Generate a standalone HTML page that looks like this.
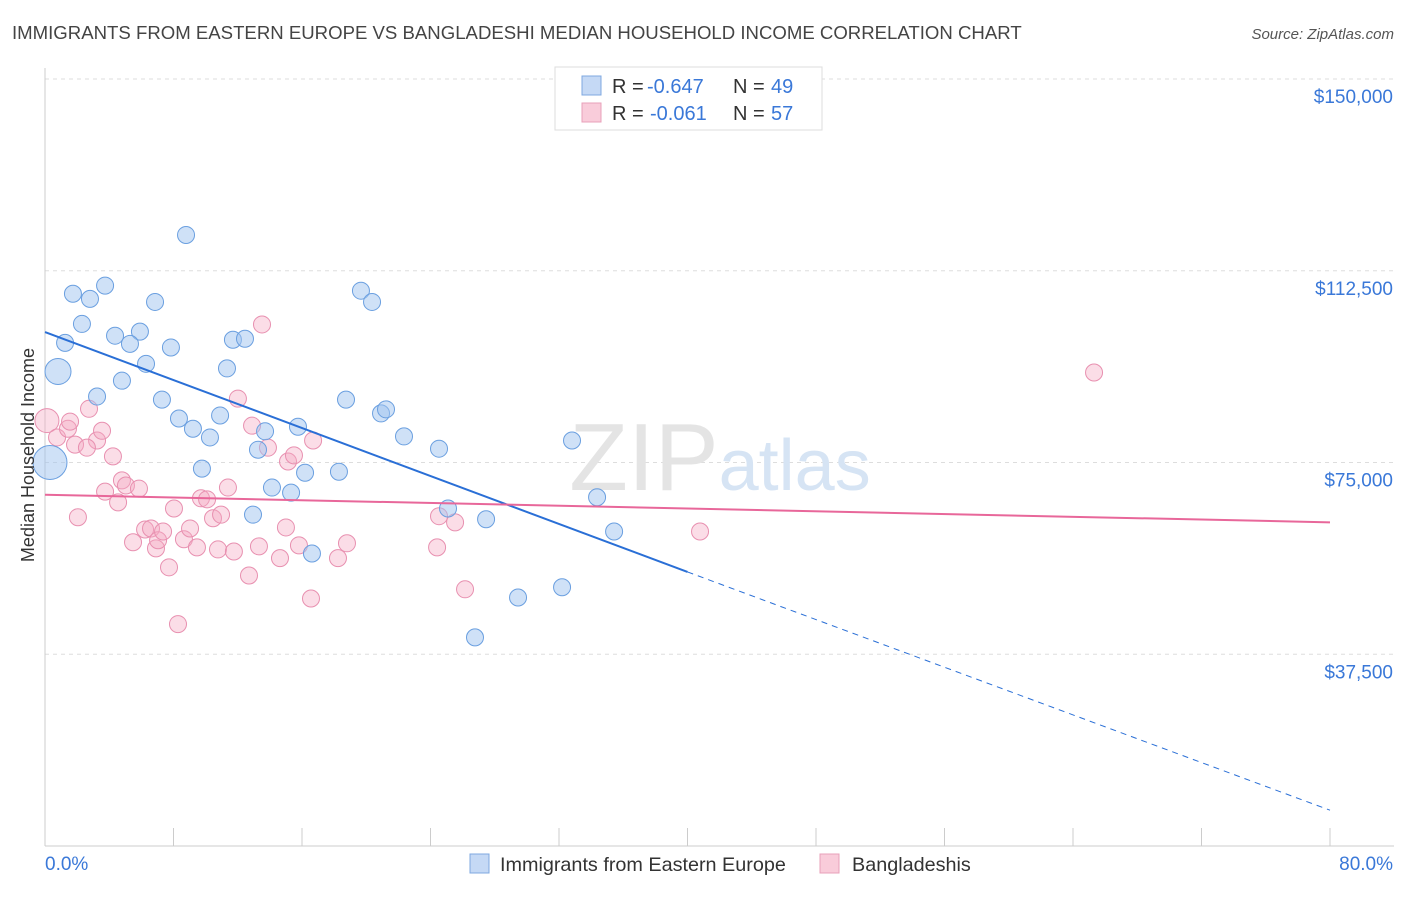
<!DOCTYPE html>
<html><head><meta charset="utf-8"><style>
body{margin:0;background:#fff;font-family:"Liberation Sans",sans-serif;}
svg text{font-family:"Liberation Sans",sans-serif;}
</style></head><body>
<svg id="chart" width="1406" height="892" xmlns="http://www.w3.org/2000/svg">
<text x="12" y="39" font-size="18.6" fill="#444">IMMIGRANTS FROM EASTERN EUROPE VS BANGLADESHI MEDIAN HOUSEHOLD INCOME CORRELATION CHART</text>
<text x="1394" y="39" font-size="15" fill="#555" font-style="italic" text-anchor="end">Source: ZipAtlas.com</text>
<g id="grid"></g>
<g id="axes"></g>
<text x="720" y="490" font-size="96" fill="#e4e4e4" text-anchor="middle" font-family="Liberation Serif">ZIP<tspan fill="#d6e4f4" font-family="Liberation Sans" font-size="72">atlas</tspan></text>
<g id="pts"></g>
<g id="lines"></g>
<text transform="translate(34,455) rotate(-90)" font-size="18" fill="#333" text-anchor="middle">Median Household Income</text>
<g>
<rect x="555" y="67" width="267" height="63" fill="#fff" stroke="#ddd"/>
<rect x="582" y="76" width="19" height="19" fill="#c5d9f5" stroke="#7fa8e0"/>
<text y="93" font-size="20" fill="#333"><tspan x="612">R =</tspan><tspan x="647" fill="#3a78d8">-0.647</tspan><tspan x="733">N =</tspan><tspan x="771" fill="#3a78d8">49</tspan></text>
<rect x="582" y="103" width="19" height="19" fill="#f9ccda" stroke="#e8a0ba"/>
<text y="120" font-size="20" fill="#333"><tspan x="612">R =</tspan><tspan x="650" fill="#3a78d8">-0.061</tspan><tspan x="733">N =</tspan><tspan x="771" fill="#3a78d8">57</tspan></text>
</g>
<g>
<rect x="470" y="854" width="19" height="19" fill="#c5d9f5" stroke="#7fa8e0"/>
<text x="500" y="871" font-size="19.8" fill="#333">Immigrants from Eastern Europe</text>
<rect x="820" y="854" width="19" height="19" fill="#f9ccda" stroke="#e8a0ba"/>
<text x="852" y="871" font-size="19.8" fill="#333">Bangladeshis</text>
</g>
</svg>
<script>
const yTicks=[37500,75000,112500,150000];
const yTickLabels=["$37,500","$75,000","$112,500","$150,000"];
const xTickLabels=["0.0%","80.0%"];
const blueX=[8.78,1.74,2.80,3.74,6.85,2.30,1.25,4.36,5.91,5.29,7.84,6.29,0.81,4.79,3.24,7.28,8.34,9.21,10.27,10.90,11.33,11.70,12.45,13.70,13.26,9.77,15.75,16.19,14.13,15.32,12.95,16.62,18.30,18.74,19.67,20.36,20.92,21.23,22.35,24.53,25.09,27.46,26.77,29.45,32.19,32.81,34.37,35.43,0.31];
const blueY=[119.5,108.0,107.0,109.6,106.4,102.1,98.4,99.8,100.6,98.2,97.5,94.3,92.8,91.0,87.9,87.3,83.6,81.6,79.9,84.2,93.4,99.0,99.2,81.1,77.5,73.8,82.0,73.0,70.1,69.1,64.8,57.2,73.2,87.3,108.6,106.4,84.6,85.4,80.1,77.7,66.0,63.9,40.8,48.6,50.6,79.3,68.2,61.5,75.0];
const blueBig=[12,48];
const pinkX=[0.12,0.75,1.43,1.56,1.87,2.74,3.24,2.61,3.55,4.23,2.05,3.74,4.55,4.79,5.04,5.85,5.48,6.23,6.60,6.91,7.04,7.35,7.72,8.03,8.28,8.65,9.03,9.46,9.71,10.09,10.46,10.77,10.96,11.39,11.76,12.01,12.70,12.89,13.32,13.51,13.88,14.63,15.00,15.13,15.50,15.81,16.56,16.69,18.24,18.80,24.41,24.53,25.53,26.15,40.78,65.31];
const pinkY=[83.2,79.9,81.6,83.0,78.5,85.5,79.3,77.9,81.2,76.2,64.3,69.3,67.2,71.5,70.5,69.9,59.4,61.9,62.1,58.2,59.8,61.5,54.5,66.0,43.4,60.0,62.1,58.4,68.0,67.8,64.1,58.0,64.8,70.1,57.6,87.5,52.9,82.2,58.6,102.0,77.9,56.3,62.3,75.2,76.4,58.8,48.4,79.3,56.3,59.2,58.4,64.5,63.3,50.2,61.5,92.6];
const blueLine=[100.5,53.6,7.0];
const pinkLine=[68.7,63.3];
const NS="http://www.w3.org/2000/svg";
const X=p=>45+p/80*1285;
const Y=v=>846-v/150000*767;
const Yk=k=>Y(k*1000);
function mk(t,a,p){const e=document.createElementNS(NS,t);for(const k in a)e.setAttribute(k,a[k]);p.appendChild(e);return e;}
const grid=document.getElementById('grid'),axes=document.getElementById('axes'),pts=document.getElementById('pts'),lines=document.getElementById('lines');
yTicks.forEach((v,i)=>{
 const l=mk('line',{x1:45,x2:1394,y1:Y(v),y2:Y(v),stroke:'#ddd','stroke-dasharray':'4 4'},grid);
 
 
 const t=mk('text',{x:1393,y:Y(v)+24,'font-size':19,fill:'#3a78d8','text-anchor':'end'},axes);
 t.textContent=yTickLabels[i];
 
 
});
mk('line',{x1:45,x2:45,y1:68,y2:846,stroke:'#ccc'},axes);
mk('line',{x1:45,x2:1394,y1:846,y2:846,stroke:'#ccc'},axes);
for(let i=1;i<=10;i++){mk('line',{x1:X(i*8),x2:X(i*8),y1:828,y2:846,stroke:'#ccc'},axes);}
[[0,'start',45],[1,'end',1393]].forEach(([i,a,x])=>{
 const t=mk('text',{x:x,y:870,'font-size':19,fill:'#3a78d8','text-anchor':a},axes);
 t.textContent=xTickLabels[i];
 
 
});
pinkX.forEach((x,i)=>{
 const c=mk('circle',{cx:X(x),cy:Yk(pinkY[i]),r:i==0?12:8.5,fill:'rgba(244,170,195,0.4)',stroke:'#e890b0','stroke-width':1},pts);
 
 
});
blueX.forEach((x,i)=>{
 const big=blueBig.includes(i);
 const c=mk('circle',{cx:X(x),cy:Yk(blueY[i]),r:big?(i==48?17:13):8.5,fill:'rgba(160,196,240,0.5)',stroke:'#6a9fe0','stroke-width':1},pts);
 
 
});
const b1=mk('line',{x1:X(0),y1:Yk(blueLine[0]),x2:X(40),y2:Yk(blueLine[1]),stroke:'#2a6fd6','stroke-width':2},lines);


const b2=mk('line',{x1:X(40),y1:Yk(blueLine[1]),x2:X(80),y2:Yk(blueLine[2]),stroke:'#2a6fd6','stroke-width':1,'stroke-dasharray':'6 5'},lines);


const p1=mk('line',{x1:X(0),y1:Yk(pinkLine[0]),x2:X(80),y2:Yk(pinkLine[1]),stroke:'#e8679a','stroke-width':2},lines);


</script>
</body></html>
